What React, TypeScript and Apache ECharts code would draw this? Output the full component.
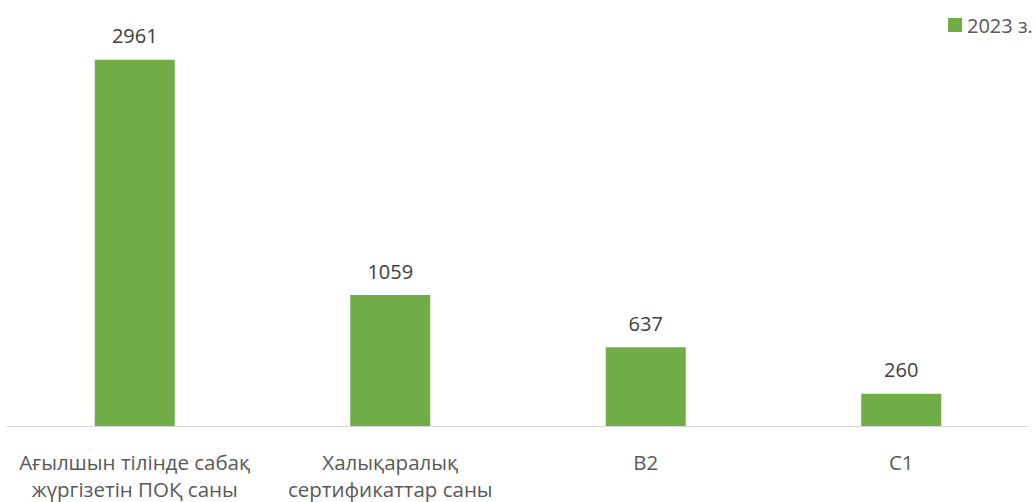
import React, { useEffect, useRef } from "react";
import * as echarts from "echarts";

const categories = [
  "Ағылшын тілінде сабақ\nжүргізетін ПОҚ саны",
  "Халықаралық\nсертификаттар саны",
  "B2",
  "C1",
];
const values2023 = [2961, 1059, 637, 260];
const seriesName = "2023 з.";

export default function App() {
  const ref = useRef<HTMLDivElement>(null);
  useEffect(() => {
    const chart = echarts.init(ref.current!, undefined, { renderer: "svg" });
    chart.setOption({
      animation: false,
      textStyle: { fontFamily: "Open Sans" },
      legend: {
        left: 943,
        top: 10,
        itemWidth: 14,
        itemHeight: 14,
        itemGap: 6,
        textStyle: { fontSize: 20, color: "#595959", fontFamily: "Open Sans" },
        data: [{ name: seriesName, icon: "rect" }],
      },
      grid: { left: 7, right: 5, top: 55, bottom: 71, containLabel: false },
      xAxis: {
        type: "category",
        data: categories,
        axisLine: { lineStyle: { color: "#d9d9d9", width: 1 } },
        axisTick: { show: false },
        axisLabel: {
          color: "#595959",
          fontSize: 20.5,
          lineHeight: 27,
          margin: 22,
          interval: 0,
          fontFamily: "Open Sans",
        },
      },
      yAxis: {
        type: "value",
        min: 0,
        max: 3000,
        show: false,
        splitLine: { show: false },
      },
      series: [
        {
          name: seriesName,
          type: "bar",
          data: values2023,
          barWidth: 80,
          itemStyle: { color: "#70AD47" },
          label: {
            show: true,
            position: "top",
            distance: 14,
            color: "#404040",
            fontSize: 20,
            fontFamily: "Open Sans",
          },
        },
      ],
    });
    return () => chart.dispose();
  }, []);
  return (
    <div
      ref={ref}
      style={{ position: "absolute", left: 0, top: 0, width: 1034, height: 502 }}
    />
  );
}
